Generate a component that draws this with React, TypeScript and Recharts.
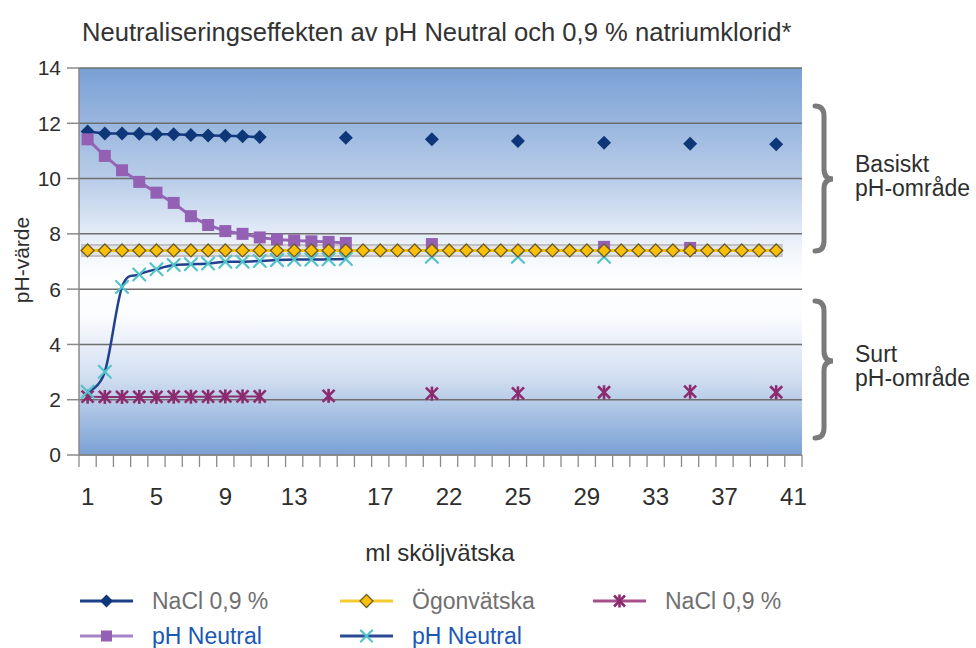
import { LineChart, Line, XAxis, YAxis, CartesianGrid } from 'recharts'

const FONT = '"Liberation Sans", Arial, Helvetica, sans-serif'

// x categories (ml sköljvätska), one per column of the chart
const mlCategories = [
  1, 2, 3, 4, 5, 6, 7, 8, 9, 10, 11, 12, 13, 14, 15, 16, 17, 18, 19, 20, 21,
  22, 23, 24, 25, 26, 27, 28, 29, 30, 31, 32, 33, 34, 35, 36, 37, 38, 39, 40, 41, 42,
]
// which columns carry a tick label, and the label printed there
const xTickIndex = [0, 4, 8, 12, 17, 21, 25, 29, 33, 37, 41]
const xTickLabels = ['1', '5', '9', '13', '17', '22', '25', '29', '33', '37', '41']
const yTicks = [0, 2, 4, 6, 8, 10, 12, 14]

// NaCl 0,9 % in basic range (dark blue diamonds)
const naclBasic = [
  11.7, 11.63, 11.63, 11.62, 11.6, 11.6, 11.58, 11.56, 11.55, 11.53, 11.5,
  null, null, null, null, 11.48, null, null, null, null, 11.42, null, null, null, null,
  11.36, null, null, null, null, 11.3, null, null, null, null, 11.26, null, null, null, null,
  11.24, null,
]
// pH Neutral in basic range (purple squares)
const phBasic = [
  11.42, 10.82, 10.3, 9.88, 9.49, 9.12, 8.64, 8.32, 8.1, 8.0, 7.87, 7.8, 7.76, 7.73, 7.71, 7.67,
  null, null, null, null, 7.63, null, null, null, null, null, null, null, null, null,
  7.53, null, null, null, null, 7.49, null, null, null, null, null, null,
]
// Ögonvätska (yellow diamonds)
const eyeFluid = [
  7.4, 7.4, 7.4, 7.4, 7.4, 7.4, 7.4, 7.4, 7.4, 7.4, 7.4, 7.4, 7.4, 7.4, 7.4, 7.4, 7.4, 7.4, 7.4, 7.4, 7.4,
  7.4, 7.4, 7.4, 7.4, 7.4, 7.4, 7.4, 7.4, 7.4, 7.4, 7.4, 7.4, 7.4, 7.4, 7.4, 7.4, 7.4, 7.4, 7.4, 7.4,
  null,
]
// pH Neutral in acid range (cyan crosses, navy line)
const phAcid = [
  2.29, 3.01, 6.08, 6.53, 6.72, 6.87, 6.9, 6.93, 6.99, 6.99, 7.02, 7.05, 7.07, 7.07, 7.08, 7.09,
  null, null, null, null, 7.17, null, null, null, null, 7.17, null, null, null, null, 7.17,
  null, null, null, null, null, null, null, null, null, null, null,
]
// NaCl 0,9 % in acid range (magenta asterisks)
const naclAcid = [
  2.11, 2.1, 2.1, 2.1, 2.1, 2.11, 2.11, 2.11, 2.12, 2.12, 2.12,
  null, null, null, 2.14, null, null, null, null, null, 2.22, null, null, null, null,
  2.23, null, null, null, null, 2.27, null, null, null, null, 2.29, null, null, null, null,
  2.27, null,
]

const data = mlCategories.map((ml, i) => ({
  x: i,
  ml,
  naclBasic: naclBasic[i],
  phBasic: phBasic[i],
  eye: eyeFluid[i],
  phAcid: phAcid[i],
  naclAcid: naclAcid[i],
}))

const xDomain = [-0.5, mlCategories.length - 0.5]

// chart box
const W = 976
const H = 648
const MARGIN = { top: 68, right: 174, bottom: 141, left: 19 }
const Y_AXIS_W = 60
const X_AXIS_H = 52
const plotLeft = MARGIN.left + Y_AXIS_W
const plotWidth = W - MARGIN.right - plotLeft
const plotBottom = H - MARGIN.bottom - X_AXIS_H

// Excel-style smoothed line (Catmull-Rom through the points)
const smoothCurve = (context: any) => {
  let x0 = NaN, y0 = NaN, x1 = NaN, y1 = NaN, x2 = NaN, y2 = NaN, pt = 0
  const k = 1 / 6
  const bez = (x: number, y: number) =>
    context.bezierCurveTo(x1 + k * (x2 - x0), y1 + k * (y2 - y0), x2 + k * (x1 - x), y2 + k * (y1 - y), x2, y2)
  return {
    areaStart() {},
    areaEnd() {},
    lineStart() {
      x0 = x1 = x2 = y0 = y1 = y2 = NaN
      pt = 0
    },
    lineEnd() {
      if (pt === 2) context.lineTo(x2, y2)
      else if (pt === 3) bez(x1, y1)
    },
    point(x: number, y: number) {
      x = +x
      y = +y
      switch (pt) {
        case 0:
          pt = 1
          context.moveTo(x, y)
          break
        case 1:
          pt = 2
          x1 = x
          y1 = y
          break
        case 2:
          pt = 3
          bez(x, y)
          break
        default:
          bez(x, y)
          break
      }
      x0 = x1; x1 = x2; x2 = x
      y0 = y1; y1 = y2; y2 = y
    },
  }
}

type MarkerKind = 'diamond' | 'square' | 'cross' | 'asterisk'

function Marker({ kind, cx, cy, fill, stroke, r }: { kind: MarkerKind; cx: number; cy: number; fill: string; stroke: string; r: number }) {
  if (kind === 'diamond') {
    return (
      <polygon
        points={`${cx},${cy - r} ${cx + r},${cy} ${cx},${cy + r} ${cx - r},${cy}`}
        fill={fill}
        stroke={stroke}
        strokeWidth={stroke === 'none' ? 0 : 1.3}
      />
    )
  }
  if (kind === 'square') {
    return <rect x={cx - r} y={cy - r} width={r * 2} height={r * 2} fill={fill} />
  }
  if (kind === 'cross') {
    return (
      <g stroke={fill} strokeWidth={2.2} strokeLinecap="round">
        <line x1={cx - r} y1={cy - r} x2={cx + r} y2={cy + r} />
        <line x1={cx - r} y1={cy + r} x2={cx + r} y2={cy - r} />
      </g>
    )
  }
  return (
    <g stroke={fill} strokeWidth={2.6}>
      <line x1={cx} y1={cy - r - 1} x2={cx} y2={cy + r + 1} />
      <line x1={cx - r} y1={cy - r} x2={cx + r} y2={cy + r} />
      <line x1={cx - r} y1={cy + r} x2={cx + r} y2={cy - r} />
    </g>
  )
}

const series = [
  { key: 'naclBasic', name: 'NaCl 0,9 %', line: '#153a80', lineW: 2.5, kind: 'diamond' as MarkerKind, fill: '#0d3779', mStroke: 'none', r: 7, legendLine: '#1c3f88', text: '#707070', curve: 'linear' as any },
  { key: 'phBasic', name: 'pH Neutral', line: '#9466b8', lineW: 3, kind: 'square' as MarkerKind, fill: '#9360b4', mStroke: 'none', r: 6, legendLine: '#a783c8', text: '#1b58b5', curve: 'linear' as any },
  { key: 'naclAcid', name: 'NaCl 0,9 %', line: '#8a2f70', lineW: 2, kind: 'asterisk' as MarkerKind, fill: '#8c2b6f', mStroke: 'none', r: 6, legendLine: '#a5508d', text: '#707070', curve: 'linear' as any },
  { key: 'phAcid', name: 'pH Neutral', line: '#21408f', lineW: 2.5, kind: 'cross' as MarkerKind, fill: '#52c3c9', mStroke: 'none', r: 6, legendLine: '#2b4a95', text: '#1b58b5', curve: smoothCurve as any },
  { key: 'eye', name: 'Ögonvätska', line: '#f4c300', lineW: 3, kind: 'diamond' as MarkerKind, fill: '#fdc000', mStroke: '#6b5b2a', r: 6.5, legendLine: '#f6cb2f', text: '#707070', curve: 'linear' as any },
]

// legend layout order: row 1 then row 2
const legendOrder = [
  ['naclBasic', 'eye', 'naclAcid'],
  ['phBasic', 'phAcid'],
]

function makeDot(s: (typeof series)[number]) {
  return (props: any) => {
    const { cx, cy, index } = props
    if (cx == null || cy == null || props.value == null) return <g key={`d-${s.key}-${index}`} />
    return (
      <g key={`d-${s.key}-${index}`}>
        <Marker kind={s.kind} cx={cx} cy={cy} fill={s.fill} stroke={s.mStroke} r={s.r} />
      </g>
    )
  }
}

function XTick(props: any) {
  const { x, y, payload } = props
  const li = xTickIndex.indexOf(payload?.value)
  if (li < 0) return <g />
  return (
    <text x={x} y={y + 50} textAnchor="middle" fontSize={24} fill="#2e2e2e" fontFamily={FONT}>
      {xTickLabels[li]}
    </text>
  )
}

function Brace({ top, mid, bottom }: { top: number; mid: number; bottom: number }) {
  const x = 824
  const d = `M815,${top} Q${x},${top} ${x},${top + 10} L${x},${mid - 10} Q${x},${mid} ${x + 9},${mid} Q${x},${mid} ${x},${mid + 10} L${x},${bottom - 10} Q${x},${bottom} 815,${bottom}`
  return <path d={d} fill="none" stroke="#7a7a7a" strokeWidth={5} strokeLinecap="round" />
}

export default function App() {
  const byKey = Object.fromEntries(series.map((s) => [s.key, s]))
  const legendX = [80, 340, 593]
  const legendY = [601, 636]
  const colW = plotWidth / mlCategories.length
  const edges = mlCategories.map((_, i) => i).concat([mlCategories.length])

  return (
    <div style={{ position: 'absolute', left: 0, top: 0, width: W, height: H, background: '#fff', fontFamily: FONT }}>
      <LineChart width={W} height={H} data={data} margin={MARGIN}>
        <defs>
          <linearGradient id="plotBg" x1="0" y1="0" x2="0" y2="1">
            <stop offset="0%" stopColor="#79a0d4" />
            <stop offset="30%" stopColor="#bccfea" />
            <stop offset="47%" stopColor="#f1f5fb" />
            <stop offset="55%" stopColor="#ffffff" />
            <stop offset="64%" stopColor="#fbfcfe" />
            <stop offset="80%" stopColor="#d2def1" />
            <stop offset="100%" stopColor="#79a0d4" />
          </linearGradient>
        </defs>
        <CartesianGrid vertical={false} stroke="#6e6e6e" strokeWidth={1.5} fill="url(#plotBg)" fillOpacity={1} />
        <XAxis
          type="number"
          dataKey="x"
          domain={xDomain}
          allowDataOverflow
          ticks={xTickIndex}
          interval={0}
          tick={<XTick />}
          tickLine={false}
          tickSize={0}
          tickMargin={0}
          height={X_AXIS_H}
          axisLine={{ stroke: '#8a8a8a', strokeWidth: 1.5 }}
        />
        <YAxis
          domain={[0, 14]}
          ticks={yTicks}
          interval={0}
          width={Y_AXIS_W}
          tickSize={12}
          tickMargin={6}
          axisLine={{ stroke: '#8a8a8a', strokeWidth: 1.5 }}
          tickLine={{ stroke: '#8a8a8a', strokeWidth: 1.5 }}
          tick={{ fontSize: 21, fill: '#2e2e2e', fontFamily: FONT }}
        />
        {/* grey band behind the Ögonvätska line */}
        <Line dataKey="eye" stroke="#c2c2c2" strokeWidth={13} strokeLinecap="square" dot={false} activeDot={false} legendType="none" isAnimationActive={false} />
        <Line dataKey="eye" stroke="#e3e3e3" strokeWidth={9} strokeLinecap="square" dot={false} activeDot={false} legendType="none" isAnimationActive={false} />
        {series.map((s) => (
          <Line
            key={s.key}
            type={s.curve}
            dataKey={s.key}
            name={s.name}
            stroke={s.line}
            strokeWidth={s.lineW}
            dot={makeDot(s)}
            activeDot={false}
            isAnimationActive={false}
          />
        ))}
      </LineChart>

      <svg width={W} height={H} style={{ position: 'absolute', left: 0, top: 0, pointerEvents: 'none' }} fontFamily={FONT}>
        {/* column-edge tick marks under the x axis */}
        <g stroke="#8a8a8a" strokeWidth={1.3}>
          {edges.map((i) => (
            <line key={`edge-${i}`} x1={plotLeft + i * colW} y1={plotBottom} x2={plotLeft + i * colW} y2={plotBottom + 12} />
          ))}
        </g>

        <text x={82} y={41} fontSize={25.6} fill="#333">
          Neutraliseringseffekten av pH Neutral och 0,9 % natriumklorid*
        </text>
        <text x={0} y={0} fontSize={21} fill="#2e2e2e" textAnchor="middle" transform="translate(29,260) rotate(-90)">
          pH-värde
        </text>
        <text x={440} y={561} fontSize={24} fill="#2e2e2e" textAnchor="middle">
          ml sköljvätska
        </text>

        <Brace top={106} mid={179} bottom={251} />
        <Brace top={301} mid={361} bottom={438} />
        <text x={855} y={172} fontSize={23} fill="#2e2e2e">Basiskt</text>
        <text x={855} y={196} fontSize={23} fill="#2e2e2e">pH-område</text>
        <text x={855} y={362} fontSize={23} fill="#2e2e2e">Surt</text>
        <text x={855} y={386} fontSize={23} fill="#2e2e2e">pH-område</text>

        {legendOrder.map((row, ri) =>
          row.map((key, ci) => {
            const s = byKey[key]
            const x0 = legendX[ci]
            const y0 = legendY[ri]
            return (
              <g key={`lg-${ri}-${ci}`}>
                <line x1={x0} y1={y0} x2={x0 + 53} y2={y0} stroke={s.legendLine} strokeWidth={3} />
                <Marker kind={s.kind} cx={x0 + 26.5} cy={y0} fill={s.fill} stroke={s.mStroke} r={s.kind === 'diamond' ? 6.5 : 5.5} />
                <text x={x0 + 72} y={y0 + 8} fontSize={23} fill={s.text}>
                  {s.name}
                </text>
              </g>
            )
          }),
        )}
      </svg>
    </div>
  )
}
